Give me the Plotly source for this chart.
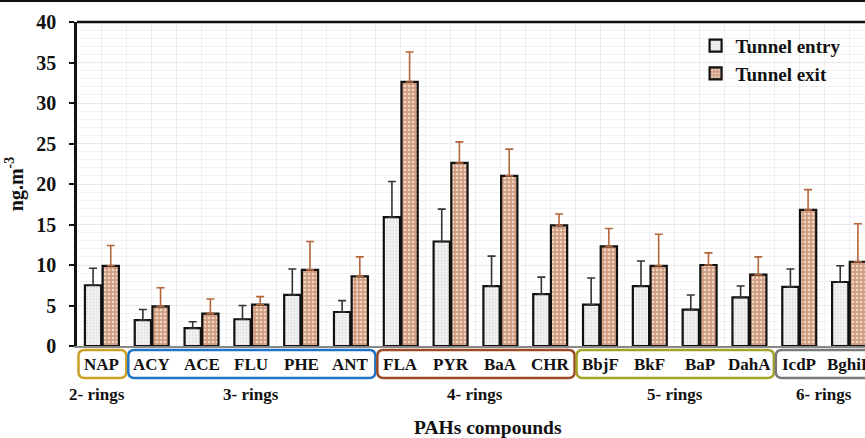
import plotly.graph_objects as go

categories = ["NAP", "ACY", "ACE", "FLU", "PHE", "ANT", "FLA", "PYR", "BaA", "CHR",
              "BbjF", "BkF", "BaP", "DahA", "IcdP", "BghiP"]
entry = [7.5, 3.2, 2.2, 3.3, 6.3, 4.2, 15.9, 12.9, 7.4, 6.4, 5.1, 7.4, 4.5, 6.0, 7.3, 7.9]
entry_sd = [2.1, 1.3, 0.8, 1.7, 3.2, 1.4, 4.4, 4.0, 3.7, 2.1, 3.3, 3.1, 1.8, 1.4, 2.2, 2.0]
exit_ = [9.9, 4.9, 4.0, 5.1, 9.4, 8.6, 32.6, 22.6, 21.0, 14.9, 12.3, 9.9, 10.0, 8.8, 16.8, 10.4]
exit_sd = [2.5, 2.3, 1.8, 1.0, 3.5, 2.4, 3.7, 2.6, 3.3, 1.4, 2.2, 3.9, 1.5, 2.2, 2.5, 4.7]

groups = ["2- rings", "3- rings", "4- rings", "5- rings", "6- rings"]
group_first = [0, 1, 6, 10, 14]
group_last = [0, 5, 9, 13, 15]
group_colors = ["#c9a227", "#1f74c8", "#9c4a22", "#a3a32a", "#7a7a7a"]

FONT = "Liberation Serif"
xs = list(range(len(categories)))
XR = [-0.5, 15.32]

fig = go.Figure()
fig.add_trace(go.Bar(
    x=xs, y=entry, name="Tunnel entry",
    marker=dict(color="#eeeeee", line=dict(color="#111111", width=2.2),
                pattern=dict(shape=".", fgcolor="#c4c4c4", bgcolor="#f0f0f0", size=3, solidity=0.2)),
    error_y=dict(type="data", symmetric=False, array=entry_sd, arrayminus=[0] * len(entry),
                 color="#333333", thickness=1.6, width=4),
))
fig.add_trace(go.Bar(
    x=xs, y=exit_, name="Tunnel exit",
    marker=dict(color="#d0966f", line=dict(color="#111111", width=2.2),
                pattern=dict(shape="+", fgcolor="#a9582f", bgcolor="#f0d6c4", size=4, solidity=0.6)),
    error_y=dict(type="data", symmetric=False, array=exit_sd, arrayminus=[0] * len(exit_),
                 color="#b5653a", thickness=1.6, width=4),
))

def px(d):
    return (d - XR[0]) / (XR[1] - XR[0])

shapes = []
y0, y1 = -0.0988, -0.0123
rx, ry = 6 / 788, 6 / 324
for f, l, c in zip(group_first, group_last, group_colors):
    a = px(f - 0.5 + 0.03)
    b = px(l + 0.5 - 0.01)
    path = (f"M{a+rx},{y1} L{b-rx},{y1} Q{b},{y1} {b},{y1-ry} L{b},{y0+ry} Q{b},{y0} {b-rx},{y0} "
            f"L{a+rx},{y0} Q{a},{y0} {a},{y0+ry} L{a},{y1-ry} Q{a},{y1} {a+rx},{y1} Z")
    shapes.append(dict(type="path", path=path, xref="paper", yref="paper",
                       line=dict(color=c, width=2.5), layer="above"))
# plot top border
shapes.append(dict(type="line", xref="paper", yref="paper", x0=0, x1=1.05, y0=1, y1=1,
                   line=dict(color="#111111", width=2.5)))
# image top border
shapes.append(dict(type="line", xref="paper", yref="paper", x0=-0.2, x1=1.05, y0=1.066, y1=1.066,
                   line=dict(color="#111111", width=3)))

annotations = []
for i, c in zip(xs, categories):
    annotations.append(dict(x=i, y=-0.0586, xref="x", yref="paper", text=c, showarrow=False,
                            yanchor="middle", font=dict(family=FONT, size=17, color="#111111", weight="bold")))
for g, f, l in zip(groups, group_first, group_last):
    cx = (f + l) / 2 - (0.1 if f == l else 0)
    annotations.append(dict(x=cx, y=-0.151, xref="x", yref="paper", text=g, showarrow=False,
                            yanchor="middle", font=dict(family=FONT, size=17, color="#111111", weight="bold")))
annotations.append(dict(x=7.75, y=-0.253, xref="x", yref="paper", text="PAHs compounds", showarrow=False,
                        yanchor="middle", font=dict(family=FONT, size=19.5, color="#111111", weight="bold")))

fig.update_layout(
    width=865, height=438,
    margin=dict(l=77, r=0, t=22, b=92),
    paper_bgcolor="white", plot_bgcolor="white",
    barmode="group", bargap=0.29, bargroupgap=0.08,
    shapes=shapes, annotations=annotations,
    legend=dict(x=0.785, y=0.985, xanchor="left", yanchor="top", bgcolor="rgba(0,0,0,0)",
                font=dict(family=FONT, size=19, color="#111111", weight="bold"),
                tracegroupgap=6, traceorder="normal"),
    xaxis=dict(range=XR, tickmode="array", tickvals=xs, showticklabels=False, ticks="",
               showline=True, linecolor="#888888", linewidth=1.5,
               showgrid=True, gridcolor="#efefef", gridwidth=1, zeroline=False,
               minor=dict(tickvals=[i - 0.5 for i in range(17)], showgrid=True, gridcolor="#efefef")),
    yaxis=dict(range=[0, 40], dtick=5, tick0=0,
               tickfont=dict(family=FONT, size=20, color="#111111", weight="bold"),
               ticks="outside", ticklen=5, tickcolor="#111111", tickwidth=1.5, ticklabelstandoff=9,
               showline=True, linecolor="#111111", linewidth=2.5,
               showgrid=True, gridcolor="#eaeaea", zeroline=False,
               minor=dict(dtick=1, showgrid=True, gridcolor="#f2f2f2"),
               title=dict(text="ng.m<sup>-3</sup>", standoff=8,
                          font=dict(family=FONT, size=20, color="#111111", weight="bold"))),
)

fig.write_html("out.html", config={"displayModeBar": False},
               post_script="document.body.style.margin='0';")
